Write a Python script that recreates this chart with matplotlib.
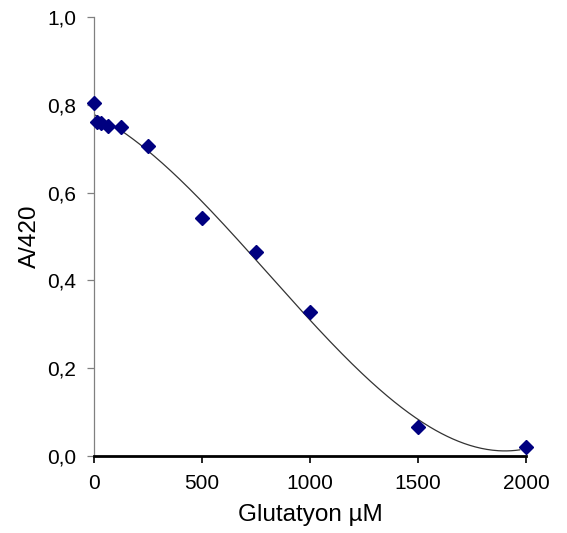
import numpy as np
import matplotlib
matplotlib.use("Agg")
import matplotlib.pyplot as plt
from matplotlib.ticker import FuncFormatter

plt.rcParams['font.family'] = ['Liberation Sans', 'DejaVu Sans']

glutathione = [0, 15.6, 31.25, 62.5, 125, 250, 500, 750, 1000, 1500, 2000]
absorbance = [0.804, 0.761, 0.759, 0.752, 0.749, 0.706, 0.542, 0.465, 0.328, 0.066, 0.021]

x_ticks = [0, 500, 1000, 1500, 2000]
y_ticks = [0.0, 0.2, 0.4, 0.6, 0.8, 1.0]

fig = plt.figure(figsize=(5.67, 5.33), dpi=100)
ax = fig.add_axes([0.166, 0.1445, 0.762, 0.8235])

# polynomial trendline (order 3) fitted to the data
coef = np.polyfit(glutathione, absorbance, 3)
xf = np.linspace(0, 1970, 300)
ax.plot(xf, np.polyval(coef, xf), color='#333333', lw=0.9, zorder=2)

ax.plot(glutathione, absorbance, linestyle='none', marker='D', markersize=7,
        color='#000080', zorder=3, clip_on=False)

ax.set_xlim(0, 2000)
ax.set_ylim(0, 1.0)
ax.set_xticks(x_ticks)
ax.set_yticks(y_ticks)
ax.yaxis.set_major_formatter(FuncFormatter(lambda v, p: f"{v:.1f}".replace('.', ',')))

for s in ['top', 'right']:
    ax.spines[s].set_visible(False)
ax.spines['left'].set_color('#808080')
ax.spines['left'].set_linewidth(0.9)
ax.spines['bottom'].set_color('black')
ax.spines['bottom'].set_linewidth(2.0)

ax.tick_params(axis='y', direction='out', length=5, width=0.9, color='#808080', labelsize=15, pad=8)
ax.tick_params(axis='x', direction='out', length=5, width=1.2, color='black', labelsize=15, pad=8)

ax.set_xlabel('Glutatyon µM', fontsize=17.5, labelpad=8)
ax.set_ylabel('A/420', fontsize=17.5, labelpad=4)

fig.savefig('out.png', dpi=100)
